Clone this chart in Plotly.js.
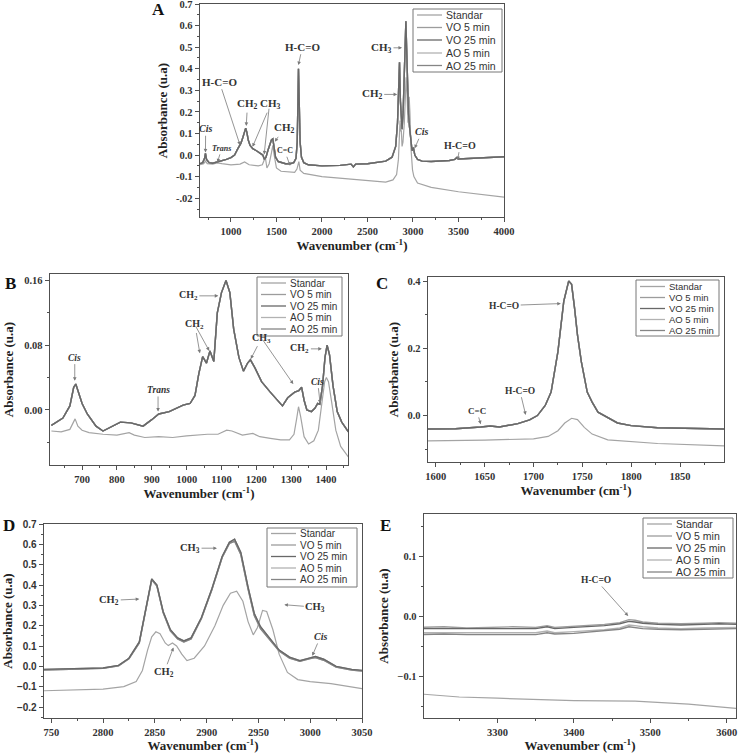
<!DOCTYPE html>
<html><head><meta charset="utf-8">
<script src="https://cdn.plot.ly/plotly-3.0.1.min.js"></script>
<style>html,body{margin:0;padding:0;background:#fff}#chart{width:738px;height:753px}</style>
</head><body><div id="chart"></div>
<script>
// ---------- series ----------
const seriesNames = ['Standar', 'VO 5 min', 'VO 25 min', 'AO 5 min', 'AO 25 min'];

// ---------- Panel A (full spectrum) ----------
const aOilWn = [660,690,710,720,732,760,800,850,900,950,
  1000,1040,1070,1090,1110,1130,1150,1162,1175,1190,
  1210,1240,1280,1320,1350,1368,1385,1405,1425,1445,
  1460,1472,1490,1520,1600,1650,1690,1715,1728,1736,
  1742,1750,1760,1775,1800,1850,2000,2200,2320,2345,
  2370,2500,2600,2700,2770,2810,2830,2842,2852,2862,
  2872,2880,2892,2905,2915,2922,2930,2940,2950,2962,
  2975,2990,3005,3020,3050,3100,3200,3400,3460,3480,
  3500,3700,3850,4000];
const aOil = [-0.04,-0.035,-0.015,0.008,-0.02,-0.035,-0.038,-0.033,-0.028,-0.02,
  -0.012,0.0,0.025,0.04,0.055,0.08,0.115,0.125,0.105,0.07,
  0.045,0.03,0.02,0.01,0.0,-0.02,-0.01,0.02,0.045,0.07,
  0.075,0.04,-0.01,-0.03,-0.04,-0.04,-0.035,-0.015,0.06,0.25,
  0.4,0.25,0.06,-0.01,-0.035,-0.045,-0.05,-0.048,-0.042,-0.055,
  -0.042,-0.04,-0.035,-0.028,-0.01,0.04,0.15,0.33,0.43,0.25,
  0.14,0.12,0.2,0.38,0.55,0.62,0.5,0.3,0.2,0.13,
  0.06,0.02,0.035,0.0,-0.02,-0.028,-0.03,-0.025,-0.02,-0.012,
  -0.018,-0.015,-0.012,-0.008];
const aStdWn = [660,700,720,740,800,850,900,1000,1100,1150,
  1200,1300,1345,1365,1378,1395,1420,1445,1460,1475,
  1500,1550,1650,1700,1725,1738,1746,1760,1800,2000,
  2200,2400,2600,2700,2780,2820,2840,2852,2858,2866,
  2872,2880,2890,2905,2918,2925,2935,2945,2952,2958,
  2966,2978,2995,3010,3050,3200,3500,3800,4000];
const aStd = [-0.045,-0.04,-0.028,-0.04,-0.042,-0.036,-0.04,-0.045,-0.042,-0.032,
  -0.045,-0.05,-0.045,-0.02,-0.01,-0.06,-0.04,0.01,0.045,0.0,
  -0.06,-0.075,-0.08,-0.08,-0.065,-0.035,-0.03,-0.07,-0.085,-0.1,
  -0.108,-0.115,-0.122,-0.125,-0.115,-0.09,-0.02,0.12,0.16,0.11,
  0.115,0.04,0.06,0.15,0.32,0.36,0.28,0.15,0.2,0.27,
  0.2,0.03,-0.07,-0.1,-0.13,-0.15,-0.17,-0.185,-0.195];

// ---------- Panel B (600-1460) ----------
const bOilWn = [612,645,665,676,682,690,700,715,740,760,
  790,810,840,875,900,920,950,975,990,1010,
  1024,1035,1046,1057,1067,1078,1088,1100,1113,1124,
  1135,1150,1163,1175,1183,1196,1215,1240,1260,1275,
  1290,1310,1322,1330,1337,1345,1358,1368,1376,1382,
  1390,1397,1403,1410,1420,1432,1445,1464];
const bOil = [-0.019,-0.01,0.005,0.028,0.032,0.022,0.008,-0.005,-0.02,-0.026,
  -0.02,-0.015,-0.016,-0.02,-0.012,-0.005,-0.002,0.003,0.006,0.008,
  0.018,0.045,0.066,0.058,0.073,0.06,0.12,0.145,0.16,0.145,
  0.1,0.065,0.048,0.058,0.062,0.052,0.035,0.022,0.012,0.005,
  0.015,0.022,0.024,0.028,0.012,0.0,-0.002,0.002,0.008,0.007,
  0.03,0.065,0.08,0.068,0.03,-0.002,-0.015,-0.027];
const bStdWn = [612,640,665,675,680,688,700,720,760,800,
  835,850,880,920,960,1000,1030,1060,1090,1115,
  1130,1160,1190,1210,1240,1270,1295,1308,1316,1321,
  1327,1337,1350,1365,1378,1388,1396,1401,1407,1416,
  1428,1442,1464];
const bStd = [-0.026,-0.027,-0.024,-0.016,-0.011,-0.02,-0.025,-0.028,-0.03,-0.031,
  -0.028,-0.031,-0.034,-0.033,-0.034,-0.032,-0.031,-0.03,-0.03,-0.025,
  -0.026,-0.031,-0.029,-0.033,-0.035,-0.037,-0.037,-0.03,-0.01,0.004,
  -0.008,-0.033,-0.042,-0.038,-0.025,0.005,0.035,0.04,0.035,0.01,
  -0.025,-0.045,-0.058];

// ---------- Panel C (1600-1895) ----------
const cOilWn = [1592,1620,1646,1656,1665,1684,1696,1704,1712,1718,1725,1731,1736,1739,1742,1745,1749,1755,1760,1766,1786,1800,1827,1860,1895];
const cOil = [-0.04,-0.039,-0.034,-0.031,-0.034,-0.024,-0.013,0.0,0.03,0.07,0.19,0.34,0.4,0.39,0.32,0.24,0.16,0.07,0.04,0.01,-0.022,-0.03,-0.036,-0.039,-0.04];
const cStdWn = [1592,1650,1700,1715,1725,1732,1739,1745,1752,1760,1776,1827,1895];
const cStd = [-0.075,-0.073,-0.069,-0.062,-0.045,-0.022,-0.008,-0.012,-0.035,-0.055,-0.072,-0.083,-0.09];

// ---------- Panel D (2750-3050) ----------
const dOilWn = [2743,2780,2800,2815,2825,2835,2842,2847,2852,2858,2865,2872,2878,2885,2895,2905,2915,2922,2927,2933,2940,2946,2952,2960,2970,2980,2990,3000,3005,3013,3025,3040,3050];
const dVO = [-0.015,-0.012,-0.008,0.005,0.04,0.12,0.3,0.43,0.40,0.27,0.18,0.14,0.125,0.14,0.24,0.38,0.54,0.61,0.625,0.56,0.39,0.26,0.195,0.145,0.08,0.045,0.028,0.042,0.048,0.035,0.0,-0.015,-0.02];
const dAO = [-0.018,-0.014,-0.01,0.003,0.037,0.115,0.29,0.425,0.395,0.265,0.175,0.135,0.12,0.135,0.235,0.375,0.535,0.605,0.615,0.55,0.38,0.25,0.185,0.135,0.075,0.04,0.025,0.038,0.043,0.03,-0.003,-0.018,-0.023];
const dStdWn = [2743,2780,2800,2820,2832,2838,2843,2847,2851,2855,2860,2863,2867,2871,2876,2881,2888,2898,2908,2916,2923,2929,2935,2940,2945,2949,2954,2958,2964,2970,2978,2988,3000,3020,3050];
const dStd = [-0.12,-0.117,-0.112,-0.1,-0.075,-0.02,0.08,0.145,0.17,0.16,0.115,0.102,0.115,0.1,0.06,0.028,0.04,0.1,0.2,0.3,0.36,0.37,0.32,0.22,0.155,0.19,0.275,0.27,0.18,0.06,-0.03,-0.065,-0.075,-0.085,-0.11];

// ---------- Panel E (3200-3610) ----------
const eWn = [3200,3230,3260,3290,3320,3350,3365,3375,3400,3420,3440,3460,3472,3480,3490,3510,3540,3570,3590,3612];
const eVO5 = [-0.019,-0.018,-0.02,-0.019,-0.018,-0.019,-0.016,-0.019,-0.017,-0.016,-0.014,-0.011,-0.006,-0.007,-0.01,-0.012,-0.013,-0.012,-0.011,-0.012];
const eVO25 = [-0.021,-0.021,-0.022,-0.021,-0.021,-0.021,-0.018,-0.021,-0.019,-0.018,-0.016,-0.013,-0.009,-0.01,-0.012,-0.014,-0.015,-0.014,-0.013,-0.014];
const eAO5 = [-0.028,-0.028,-0.029,-0.028,-0.028,-0.028,-0.025,-0.028,-0.026,-0.025,-0.023,-0.02,-0.015,-0.016,-0.018,-0.02,-0.021,-0.02,-0.019,-0.019];
const eAO25 = [-0.031,-0.03,-0.031,-0.031,-0.03,-0.031,-0.028,-0.03,-0.029,-0.027,-0.025,-0.022,-0.018,-0.019,-0.021,-0.022,-0.023,-0.022,-0.021,-0.021];
const eStdWn = [3200,3250,3300,3400,3480,3550,3612];
const eStd = [-0.13,-0.135,-0.137,-0.141,-0.142,-0.147,-0.154];

// ---------- tick labels ----------
const aYTickVals = [-0.2,-0.1,0,0.1,0.2,0.3,0.4,0.5,0.6,0.7];
const aYTickText = ['-.02','-0.1','0.0','0.1','0.2','0.3','0.4','0.5','0.6','0.7'];
const bYTickVals = [0,0.08,0.16];
const bYTickText = ['0.00','0.08','0.16'];
const dXTickVals = [2750,2800,2850,2900,2950,3000,3050];
const dXTickText = ['750','2800','2850','2900','2950','3000','3050'];

// ---------- peak labels: [text, x, y, tailX, tailY, size] ----------
const aLabels = [
  ['<i>Cis</i>',720,0.012,722,0.122,10],
  ['<i>Trans</i>',852,-0.034,898,0.031,8],
  ['H-C=O',1100,0.046,872,0.34,11],
  ['CH<sub>2</sub>',1168,0.135,1182,0.236,11],
  ['CH<sub>3</sub>',1237,0.038,1438,0.236,11],
  ['',1365,0.003,1420,0.222,11],
  ['CH<sub>2</sub>',1482,0.062,1584,0.124,11],
  ['C=C',1650,-0.05,1591,0.02,8],
  ['H-C=O',1741,0.417,1785,0.502,11],
  ['CH<sub>3</sub>',2880,0.497,2654,0.497,11],
  ['CH<sub>2</sub>',2826,0.281,2552,0.281,11],
  ['<i>Cis</i>',3018,0.031,3099,0.108,10],
  ['H-C=O',3490,-0.023,3519,0.046,10]
];
const bLabels = [
  ['<i>Cis</i>',679,0.036,679,0.0647,9.5],
  ['<i>Trans</i>',918,-0.002,918,0.0247,9.5],
  ['CH<sub>2</sub>',1038,0.07,1024,0.105,10],
  ['',1065,0.073,1024,0.105,10],
  ['CH<sub>2</sub>',1091,0.141,1005,0.141,10],
  ['CH<sub>3</sub>',1184,0.063,1215,0.0887,10],
  ['',1306,0.032,1215,0.0887,10],
  ['<i>Cis</i>',1383,0.008,1376,0.035,9.5],
  ['CH<sub>2</sub>',1388,0.0755,1325,0.0755,10]
];
const cLabels = [
  ['H-C=O',1728,0.333,1670,0.327,9.5],
  ['H-C=O',1692,0.002,1686,0.074,9.5],
  ['C=C',1646,-0.026,1642,0.014,9]
];
const dLabels = [
  ['CH<sub>3</sub>',2910,0.581,2884,0.581,10.5],
  ['CH<sub>2</sub>',2835,0.331,2806,0.324,10.5],
  ['CH<sub>3</sub>',2975,0.303,3005,0.291,10.5],
  ['<i>Cis</i>',3002,0.052,3010,0.147,10],
  ['CH<sub>2</sub>',2868,0.093,2859,-0.029,10.5]
];
const eLabels = [
  ['H-C=O',3471,0.0,3429,0.06,9.5]
];

// ---------- styles ----------
const seriesColors = ['#a4a4a4','#9c9c9c','#686868','#b2b2b2','#858585'];
const drawOrder = [0, 3, 4, 1, 2]; // darkest oil curve drawn last
const W = 738, H = 753;
const px = x => x / W, py = y => 1 - y / H;

const panels = [
  {n:'', series:[[aStdWn,aStd],[aOilWn,aOil],[aOilWn,aOil],[aOilWn,aOil],[aOilWn,aOil]], labels:aLabels,
   box:[200,4,504,217], xr:[660,4000], yr:[-0.287,0.7], letter:['A',158,10],
   legend:[413,9,502,72,[15,27.5,40,53,65.5],10.5]},
  {n:'2', series:[[bStdWn,bStd],[bOilWn,bOil],[bOilWn,bOil],[bOilWn,bOil],[bOilWn,bOil]], labels:bLabels,
   box:[50,274,348,465], xr:[608,1463], yr:[-0.068,0.168], letter:['B',10,283],
   legend:[257,277,342,336,[283,294.5,306,317.5,329],10]},
  {n:'3', series:[[cStdWn,cStd],[cOilWn,cOil],[cOilWn,cOil],[cOilWn,cOil],[cOilWn,cOil]], labels:cLabels,
   box:[428,277,724,462], xr:[1592,1895], yr:[-0.138,0.412], letter:['C',382,283],
   legend:[636,280,719,336,[286.5,297.5,308.5,319.5,330.5],9.5]},
  {n:'4', series:[[dStdWn,dStd],[dOilWn,dVO],[dOilWn,dVO],[dOilWn,dAO],[dOilWn,dAO]], labels:dLabels,
   box:[44,524,362,718], xr:[2743,3050], yr:[-0.254,0.7], letter:['D',9,525],
   legend:[267,528,357,587,[533.5,545,556.5,568,579.5],10]},
  {n:'5', series:[[eStdWn,eStd],[eWn,eVO5],[eWn,eVO25],[eWn,eAO5],[eWn,eAO25]], labels:eLabels,
   box:[424,514,736,718], xr:[3204,3612], yr:[-0.17,0.17], letter:['E',386,525],
   legend:[643,518,733,578,[524,536,548,560,572],10.5]}
];

const serif = 'Liberation Serif, Times New Roman, serif';
const sans = 'Liberation Sans, Arial, sans-serif';
const axisCol = '#505050';

const traces = [];
const layout = {width:W, height:H, margin:{l:0,r:0,t:0,b:0}, paper_bgcolor:'#fff', plot_bgcolor:'#fff',
  showlegend:false, annotations:[], shapes:[]};

function baseAxis(extra){
  return Object.assign({showgrid:false, zeroline:false, showline:true, mirror:true,
    linecolor:axisCol, linewidth:1.3, ticks:'outside', ticklen:4, tickwidth:1, tickcolor:axisCol,
    ticklabeloverflow:'allow',
    tickfont:{family:serif, size:10.5, color:'#333', weight:'bold'}, fixedrange:true}, extra);
}

const xExtra = [
  {dtick:500, tick0:0, minor:{dtick:250, ticks:'outside', ticklen:2, tickcolor:axisCol}},
  {dtick:100, tick0:0, minor:{dtick:50, ticks:'outside', ticklen:2, tickcolor:axisCol}},
  {dtick:50, tick0:0, minor:{dtick:25, ticks:'outside', ticklen:2, tickcolor:axisCol}},
  {tickmode:'array', tickvals:dXTickVals, ticktext:dXTickText, minor:{dtick:25, tick0:0, ticks:'outside', ticklen:2, tickcolor:axisCol}},
  {dtick:100, tick0:0, minor:{dtick:50, ticks:'outside', ticklen:2, tickcolor:axisCol}}
];
const yExtra = [
  {tickmode:'array', tickvals:aYTickVals, ticktext:aYTickText, minor:{dtick:0.05, tick0:0, ticks:'outside', ticklen:2, tickcolor:axisCol}},
  {tickmode:'array', tickvals:bYTickVals, ticktext:bYTickText, minor:{dtick:0.04, tick0:0, ticks:'outside', ticklen:2, tickcolor:axisCol}},
  {dtick:0.2, tick0:0, tickformat:'.1f', minor:{dtick:0.1, ticks:'outside', ticklen:2, tickcolor:axisCol}},
  {dtick:0.1, tick0:0, tickformat:'.1f', tickfont:{family:sans, size:10, color:'#333', weight:'bold'}, minor:{dtick:0.05, ticks:'outside', ticklen:2, tickcolor:axisCol}},
  {dtick:0.1, tick0:0, tickformat:'.1f', minor:{dtick:0.05, ticks:'outside', ticklen:2, tickcolor:axisCol}}
];
const yStandoff = [5, 7, 6, 6, 6];
const xStandoff = [3, 0, 0, 4, 4];

panels.forEach((p, i) => {
  const xa = 'x' + p.n, ya = 'y' + p.n;
  drawOrder.forEach(k => {
    const s = p.series[k];
    traces.push({x:s[0], y:s[1], xaxis:xa, yaxis:ya, mode:'lines', name:seriesNames[k],
      line:{color:seriesColors[k], width:k === 0 ? 1.2 : 1.4}, hoverinfo:'skip'});
  });
  const [x0,y0,x1,y1] = p.box;
  layout['xaxis' + p.n] = baseAxis(Object.assign({domain:[px(x0), px(x1)], range:p.xr, anchor:ya,
    title:{text:'Wavenumber (cm<sup>-1</sup>)', font:{family:serif, size:13, color:'#222', weight:'bold'}, standoff:xStandoff[i]}}, xExtra[i]));
  layout['yaxis' + p.n] = baseAxis(Object.assign({domain:[py(y1), py(y0)], range:p.yr, anchor:xa,
    title:{text:'Absorbance (u.a)', font:{family:serif, size:13, color:'#222', weight:'bold'}, standoff:yStandoff[i]}}, yExtra[i]));

  p.labels.forEach(l => {
    layout.annotations.push({xref:xa, yref:ya, axref:xa, ayref:ya, x:l[1], y:l[2], ax:l[3], ay:l[4],
      text:l[0] ? '<b>' + l[0] + '</b>' : '', showarrow:true, arrowhead:2, arrowsize:0.9, arrowwidth:0.8,
      arrowcolor:'#7a7a7a', standoff:0, font:{family:serif, size:l[5], color:'#333'}});
  });

  layout.annotations.push({xref:'paper', yref:'paper', x:px(p.letter[1]), y:py(p.letter[2]),
    text:'<b>' + p.letter[0] + '</b>', showarrow:false, font:{family:serif, size:17, color:'#111'},
    xanchor:'center', yanchor:'middle'});

  const [lx0, ly0, lx1, ly1, rows, lfs] = p.legend;
  layout.shapes.push({type:'rect', xref:'paper', yref:'paper', x0:px(lx0), x1:px(lx1), y0:py(ly1), y1:py(ly0),
    line:{color:'#777', width:1}, fillcolor:'rgba(255,255,255,0)'});
  rows.forEach((ry, k) => {
    layout.shapes.push({type:'line', xref:'paper', yref:'paper', x0:px(lx0 + 4), x1:px(lx0 + 29), y0:py(ry), y1:py(ry),
      line:{color:seriesColors[k], width:1.3}});
    layout.annotations.push({xref:'paper', yref:'paper', x:px(lx0 + 31), y:py(ry), xanchor:'left', yanchor:'middle',
      text:seriesNames[k], showarrow:false, font:{family:sans, size:lfs, color:'#333'}});
  });
});

Plotly.newPlot('chart', traces, layout, {staticPlot:true, displayModeBar:false});
</script>
</body></html>
